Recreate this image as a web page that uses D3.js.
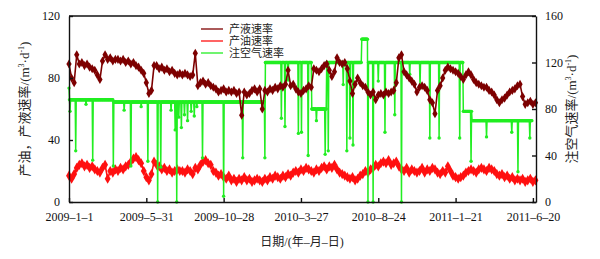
<!DOCTYPE html>
<html>
<head>
<meta charset="utf-8">
<script src="https://cdn.jsdelivr.net/npm/d3@7"></script>
<style>
    body { margin: 0; background: #fff; }
    svg { display: block; }
    text { font-family: "Liberation Serif", "Noto Sans CJK SC", serif; }
</style>
</head>
<body>
<div id="chart"></div>
<script>
// days are counted from 2009-1-1, one value every 5 days for the two rate series
const stepDays = 5
const tickDays = [0, 150, 300, 450, 600, 750, 900]
const tickLabels = ['2009–1–1', '2009–5–31', '2009–10–28', '2010–3–27', '2010–8–24', '2011–1–21', '2011–6–20']
const leftTicks = [0, 40, 80, 120]
const rightTicks = [0, 40, 80, 120, 160]
const seriesNames = ['产液速率', '产油速率', '注空气速率']

// 产液速率 (m3/d)
const liquidRate = [
    89, 80, 77, 95, 89, 90, 88, 89, 87, 86,
    85, 82, 79, 91, 95, 92, 93, 91, 92, 92,
    91, 92, 90, 91, 89, 90, 88, 87, 85, 83,
    77, 70, 72, 88, 88, 86, 87, 85, 86, 84,
    85, 83, 82, 83, 82, 83, 82, 81, 82, 96,
    75, 77, 78, 76, 77, 75, 74, 73, 71, 72,
    73, 71, 72, 71, 72, 70, 71, 56, 71, 69,
    70, 72, 73, 71, 73, 60, 72, 71, 73, 72,
    74, 73, 75, 74, 76, 85, 75, 76, 73, 71,
    70, 72, 73, 75, 74, 86, 85, 84, 86, 88,
    89, 85, 81, 84, 93, 90, 89, 90, 86, 78,
    70, 76, 80, 77, 75, 74, 71, 69, 71, 66,
    69, 70, 69, 71, 70, 71, 72, 77, 93, 95,
    84, 82, 80, 78, 76, 71, 74, 75, 74, 72,
    66, 64, 57, 72, 75, 80, 85, 87, 86, 85,
    84, 83, 81, 79, 82, 84, 82, 79, 77, 76,
    75, 74, 74, 72, 71, 69, 66, 64, 66, 67,
    69, 71, 72, 73, 75, 76, 68, 63, 64, 65,
    63, 64
]

// 产油速率 (m3/d)
const oilRate = [
    17, 15, 18, 22, 24, 25, 23, 24, 22, 23,
    21, 20, 19, 22, 24, 15, 20, 19, 21, 20,
    22, 21, 23, 24, 26, 28, 29, 27, 25, 20,
    16, 14, 18, 26, 24, 23, 21, 22, 20, 21,
    19, 20, 21, 20, 20, 19, 21, 20, 18, 22,
    21, 24, 26, 27, 25, 24, 20, 19, 17, 18,
    16, 15, 17, 14, 15, 13, 15, 14, 16, 14,
    15, 13, 14, 15, 14, 13, 15, 14, 16, 15,
    17, 16, 15, 17, 16, 18, 17, 19, 20, 19,
    21, 20, 22, 21, 20, 19, 21, 20, 22, 23,
    21, 23, 22, 24, 21, 19, 18, 17, 16, 15,
    16, 14, 15, 17, 18, 20, 19, 21, 22, 24,
    23, 25, 26, 25, 27, 24, 25, 26, 23, 21,
    20, 22, 19, 21, 20, 19, 20, 22, 19, 21,
    20, 22, 21, 19, 18, 20, 19, 23, 20, 17,
    16, 15, 16, 17, 19, 20, 21, 20, 19, 21,
    22, 21, 20, 22, 21, 20, 18, 17, 18, 16,
    17, 15, 16, 14, 15, 14, 15, 13, 14, 15,
    13, 14
]

// 注空气速率: held levels [first day, last day, value] and single-day drops [day, value]
const airLevels = [
    [0, 85, 88], [86, 379, 86], [380, 470, 120], [471, 499, 80],
    [500, 567, 120], [568, 580, 140], [581, 764, 120], [765, 781, 78], [782, 898, 70]
]
const airDips = [
    [0, 98], [2, 78], [13, 44], [33, 84], [46, 36], [86, 31], [107, 79], [120, 31],
    [140, 82], [153, 35], [172, 0], [178, 30], [198, 79], [206, 62], [209, 0], [213, 73],
    [218, 64], [224, 75], [230, 70], [237, 78], [243, 74], [248, 82], [259, 38], [300, 5],
    [337, 38], [380, 38], [412, 72], [419, 65], [425, 105], [445, 59], [451, 60], [464, 40],
    [480, 70], [497, 41], [503, 44], [532, 101], [539, 44], [545, 55], [551, 49], [580, 0],
    [590, 0], [600, 104], [613, 60], [632, 75], [645, 0], [661, 110], [681, 99], [700, 55],
    [718, 55], [758, 55], [780, 35], [810, 56], [859, 60], [871, 26], [894, 55]
]

class RateChart {

    constructor(parentElement) {
        this.parentElement = parentElement
        this.colors = {liquid: '#7d0000', oil: '#ff1010', air: '#22ee22'}
        this.initVis()
    }

    initVis() {
        let vis = this;
        vis.margin = {top: 16, right: 64, bottom: 57, left: 69};
        vis.width = 600 - vis.margin.left - vis.margin.right;
        vis.height = 259 - vis.margin.top - vis.margin.bottom;

        vis.svg = d3.select('#' + vis.parentElement).append('svg')
            .attr('width', 600)
            .attr('height', 259)
            .append('g')
            .attr('transform', `translate(${vis.margin.left}, ${vis.margin.top})`);

        vis.x = d3.scaleLinear().domain([0, 906]).range([0, vis.width]);
        vis.yLeft = d3.scaleLinear().domain([0, 120]).range([vis.height, 0]);
        vis.yRight = d3.scaleLinear().domain([0, 160]).range([vis.height, 0]);

        vis.wrangleData()
    }

    wrangleData() {
        let vis = this;

        vis.liquid = liquidRate.map((v, i) => ({day: i * stepDays, v: v}))
        vis.oil = oilRate.map((v, i) => ({day: i * stepDays, v: v}))

        // one point per day for the injection rate
        vis.air = d3.range(0, 899).map(day => {
            let level = airLevels.find(l => day >= l[0] && day <= l[1])
            let dip = airDips.find(p => p[0] === day)
            return {day: day, v: dip ? dip[1] : level[2]}
        })

        vis.updateVis()
    }

    updateVis() {
        let vis = this;

        // red first, green over it, dark red last
        vis.drawSeries(vis.oil, vis.yLeft, vis.colors.oil, 'diamond', 30, 1.6)
        vis.drawSeries(vis.air, vis.yRight, vis.colors.air, 'circle', 9, 1.5)
        vis.drawSeries(vis.liquid, vis.yLeft, vis.colors.liquid, 'diamond', 24, 1.6)

        // axes, ticks pointing inward
        let xAxis = d3.axisBottom(vis.x)
            .tickValues(tickDays)
            .tickFormat((d, i) => tickLabels[i])
            .tickSize(-4).tickSizeOuter(0).tickPadding(10)
        let leftAxis = d3.axisLeft(vis.yLeft)
            .tickValues(leftTicks).tickSize(-4).tickSizeOuter(0).tickPadding(9)
        let rightAxis = d3.axisRight(vis.yRight)
            .tickValues(rightTicks).tickSize(-4).tickSizeOuter(0).tickPadding(9)

        vis.svg.append('g').attr('transform', `translate(0, ${vis.height})`).call(xAxis)
        vis.svg.append('g').call(leftAxis)
        vis.svg.append('g').attr('transform', `translate(${vis.width}, 0)`).call(rightAxis)

        vis.svg.selectAll('.tick text')
            .attr('font-size', 12)
            .attr('fill', '#111')
            .style('font-family', '"Liberation Serif", serif')
        vis.svg.selectAll('.domain, .tick line')
            .attr('stroke', '#111')
            .attr('stroke-width', 1.4)

        vis.svg.append('line')
            .attr('x1', 0).attr('x2', vis.width)
            .attr('y1', 0).attr('y2', 0)
            .attr('stroke', '#111')
            .attr('stroke-width', 1.4)

        // axis titles
        vis.svg.append('text')
            .attr('x', 233).attr('y', 230)
            .attr('text-anchor', 'middle')
            .attr('font-size', 12)
            .attr('fill', '#222')
            .text('日期/(年–月–日)')

        vis.unitTitle(-40, vis.height / 2, '产油，产液速率/(m')
        vis.unitTitle(vis.width + 40, vis.height / 2, '注空气速率/(m')

        // legend
        let legend = vis.svg.append('g').attr('transform', 'translate(132, 13)')
        let legendColors = [vis.colors.liquid, vis.colors.oil, vis.colors.air]
        seriesNames.forEach((name, i) => {
            legend.append('line')
                .attr('x1', 0).attr('x2', 22)
                .attr('y1', i * 12).attr('y2', i * 12)
                .attr('stroke', legendColors[i])
                .attr('stroke-width', 1.3)
            legend.append('text')
                .attr('x', 28).attr('y', i * 12 + 4)
                .attr('font-size', 11)
                .attr('fill', '#222')
                .text(name)
        })
    }

    drawSeries(data, yScale, color, shape, size, width) {
        let vis = this;

        let line = d3.line()
            .x(d => vis.x(d.day))
            .y(d => yScale(d.v))

        vis.svg.append('path')
            .datum(data)
            .attr('fill', 'none')
            .attr('stroke', color)
            .attr('stroke-width', width)
            .attr('d', line)

        let symbol = d3.symbol()
            .type(shape === 'diamond' ? d3.symbolDiamond : d3.symbolCircle)
            .size(size)

        vis.svg.append('g')
            .selectAll('path')
            .data(data)
            .enter().append('path')
            .attr('d', symbol)
            .attr('transform', d => `translate(${vis.x(d.day)}, ${yScale(d.v)})`)
            .attr('fill', color)
    }

    unitTitle(x, y, label) {
        let vis = this;
        let t = vis.svg.append('text')
            .attr('transform', `translate(${x}, ${y}) rotate(-90)`)
            .attr('text-anchor', 'middle')
            .attr('font-size', 13)
            .attr('fill', '#222')
        t.append('tspan').text(label)
        t.append('tspan').attr('font-size', 8).attr('dy', -5).text('3')
        t.append('tspan').attr('dy', 5).text('·d')
        t.append('tspan').attr('font-size', 8).attr('dy', -5).text('-1')
        t.append('tspan').attr('dy', 5).text(')')
    }
}

new RateChart('chart')
</script>
</body>
</html>
